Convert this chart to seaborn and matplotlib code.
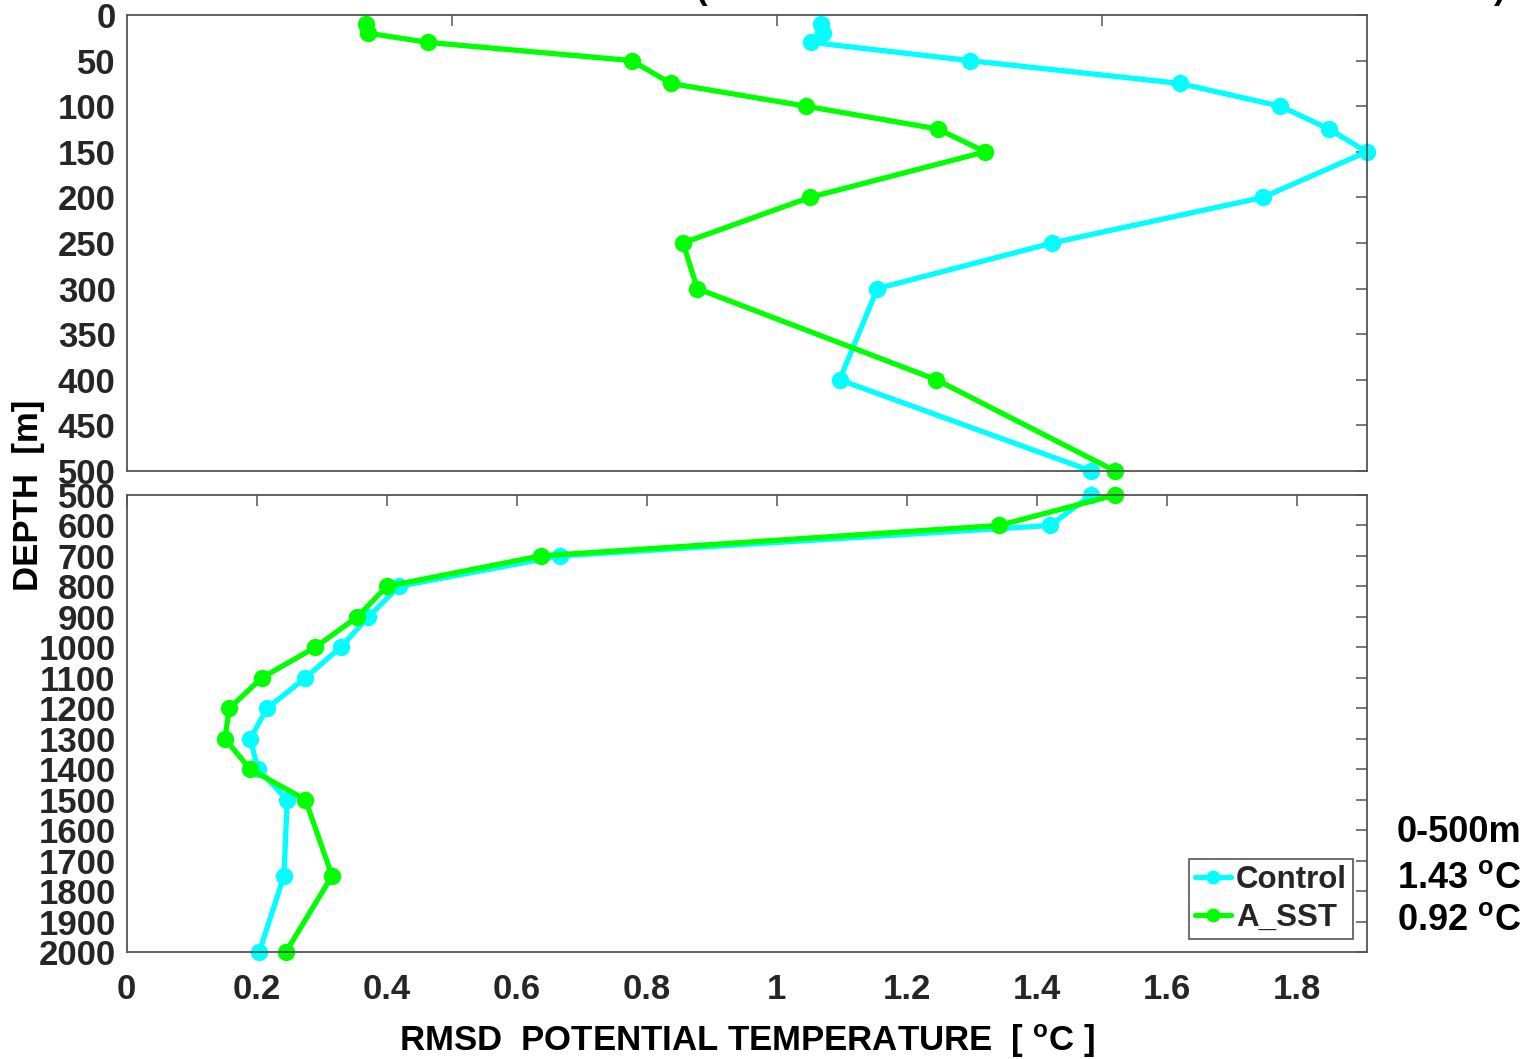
import numpy as np
import pandas as pd
import matplotlib
matplotlib.use("Agg")
import matplotlib.pyplot as plt
import seaborn as sns
from matplotlib.lines import Line2D

# ---------------- data ----------------
depth_top = [10, 20, 30, 50, 75, 100, 125, 150, 200, 250, 300, 400, 500]
control_top = [1.069, 1.071, 1.053, 1.297, 1.620, 1.775, 1.850, 1.908, 1.748, 1.424, 1.155, 1.097, 1.484]
asst_top = [0.368, 0.372, 0.463, 0.777, 0.837, 1.045, 1.248, 1.321, 1.051, 0.856, 0.878, 1.246, 1.521]

depth_bot = [500, 600, 700, 800, 900, 1000, 1100, 1200, 1300, 1400, 1500, 1750, 2000]
control_bot = [1.484, 1.421, 0.666, 0.419, 0.372, 0.329, 0.275, 0.216, 0.190, 0.202, 0.247, 0.242, 0.204]
asst_bot = [1.521, 1.342, 0.637, 0.400, 0.355, 0.290, 0.208, 0.158, 0.151, 0.190, 0.275, 0.316, 0.245]

runs = ["Control", "A_SST"]
run_colors = ["#00FFFF", "#00FF00"]

x_ticks = [0, 0.2, 0.4, 0.6, 0.8, 1.0, 1.2, 1.4, 1.6, 1.8]
x_ticklabels = ["0", "0.2", "0.4", "0.6", "0.8", "1", "1.2", "1.4", "1.6", "1.8"]
top_x_ticks = [0.5, 1.0, 1.5]
top_y_ticks = list(range(0, 501, 50))
bot_y_ticks = list(range(500, 2001, 100))
x_max = 1.908

x_label = "RMSD  POTENTIAL TEMPERATURE  [ $^{\\mathrm{o}}$C ]"
y_label = "DEPTH  [m]"
summary_lines = ["0-500m", "1.43 $^{\\mathrm{o}}$C", "0.92 $^{\\mathrm{o}}$C"]

# ---------------- style ----------------
sns.set_style("white")
plt.rcParams["font.family"] = ["Liberation Sans", "DejaVu Sans"]
plt.rcParams["font.weight"] = "bold"
plt.rcParams["mathtext.fontset"] = "custom"
plt.rcParams["mathtext.rm"] = "Liberation Sans:bold"
plt.rcParams["mathtext.bf"] = "Liberation Sans:bold"
plt.rcParams["mathtext.it"] = "Liberation Sans:bold"

W, H = 1537, 1059
fig = plt.figure(figsize=(W / 100, H / 100), dpi=100)

left = 126.7 / W
width = (1366.7 - 126.7) / W
ax_top = fig.add_axes([left, 1 - 471 / H, width, (471 - 15) / H])
ax_bot = fig.add_axes([left, 1 - 952 / H, width, (952 - 495) / H])

df_top = pd.DataFrame({
    "depth": depth_top * 2,
    "rmsd": control_top + asst_top,
    "run": [runs[0]] * len(depth_top) + [runs[1]] * len(depth_top),
})
df_bot = pd.DataFrame({
    "depth": depth_bot * 2,
    "rmsd": control_bot + asst_bot,
    "run": [runs[0]] * len(depth_bot) + [runs[1]] * len(depth_bot),
})

palette = dict(zip(runs, run_colors))
line_kw = dict(x="rmsd", y="depth", hue="run", hue_order=runs, palette=palette,
               sort=False, estimator=None, marker="o", markersize=12.5,
               markeredgewidth=0, linewidth=3.8, legend=False)

sns.lineplot(data=df_top, ax=ax_top, **line_kw)
sns.lineplot(data=df_bot, ax=ax_bot, **line_kw)

spine_col = "#555555"
tick_col = "#262626"
for ax in (ax_top, ax_bot):
    ax.set_xlim(0, x_max)
    ax.set_xlabel("")
    ax.set_ylabel("")
    for s in ax.spines.values():
        s.set_color(spine_col)
        s.set_linewidth(1.3)
        s.set_visible(True)
    ax.tick_params(direction="in", length=8, width=1.1, color=spine_col,
                   top=True, right=True, labeltop=False, labelright=False,
                   labelsize=25, labelcolor=tick_col)
    ax.set_facecolor("white")
    for ln in ax.lines:
        ln.set_clip_on(False)

ax_top.set_ylim(500, 0)
ax_top.set_yticks(top_y_ticks)
ax_top.set_yticklabels([str(v) for v in top_y_ticks])
ax_top.set_xticks(top_x_ticks)
ax_top.tick_params(axis="x", labelbottom=False)
ax_top.tick_params(axis="y", pad=8)

ax_bot.set_ylim(2000, 500)
ax_bot.set_yticks(bot_y_ticks)
ax_bot.set_yticklabels([str(v) for v in bot_y_ticks])
ax_bot.set_xticks(x_ticks)
ax_bot.set_xticklabels(x_ticklabels)
ax_bot.tick_params(axis="x", pad=15)
ax_bot.tick_params(axis="y", pad=8)
for lab in ax_top.get_yticklabels() + ax_bot.get_yticklabels() + ax_bot.get_xticklabels():
    lab.set_fontweight("bold")

ax_bot.set_xlabel(x_label, fontsize=25, fontweight="bold", color="black", labelpad=12)
fig.text(29 / W, 1 - 495 / H, y_label, rotation=90, ha="center", va="center",
         fontsize=25, fontweight="bold", color="black")

handles = [Line2D([], [], color=c, marker="o", markersize=10, markeredgewidth=0,
                  linewidth=3.8) for c in run_colors]
leg = ax_bot.legend(handles, runs, loc="lower right", bbox_to_anchor=(0.989, 0.028),
                    borderaxespad=0, frameon=True, fancybox=False, framealpha=1,
                    edgecolor=spine_col, prop={"weight": "bold", "size": 22.5},
                    handlelength=1.15, handletextpad=0.15, labelspacing=0.25,
                    borderpad=0.2)
leg.get_frame().set_linewidth(1.2)

for txt, yc in zip(summary_lines, [833, 878, 921]):
    fig.text(1397 / W, 1 - yc / H, txt, ha="left", va="center", fontsize=26,
             fontweight="bold", color="black")

# clipped title parentheses at the very top edge
fig.text(701 / W, 1 + 1 / H, "(", ha="center", va="baseline", fontsize=25,
         fontweight="bold", color="black")
fig.text(1500 / W, 1 + 1 / H, ")", ha="center", va="baseline", fontsize=25,
         fontweight="bold", color="black")

fig.savefig("out.png", dpi=100, facecolor="white")
